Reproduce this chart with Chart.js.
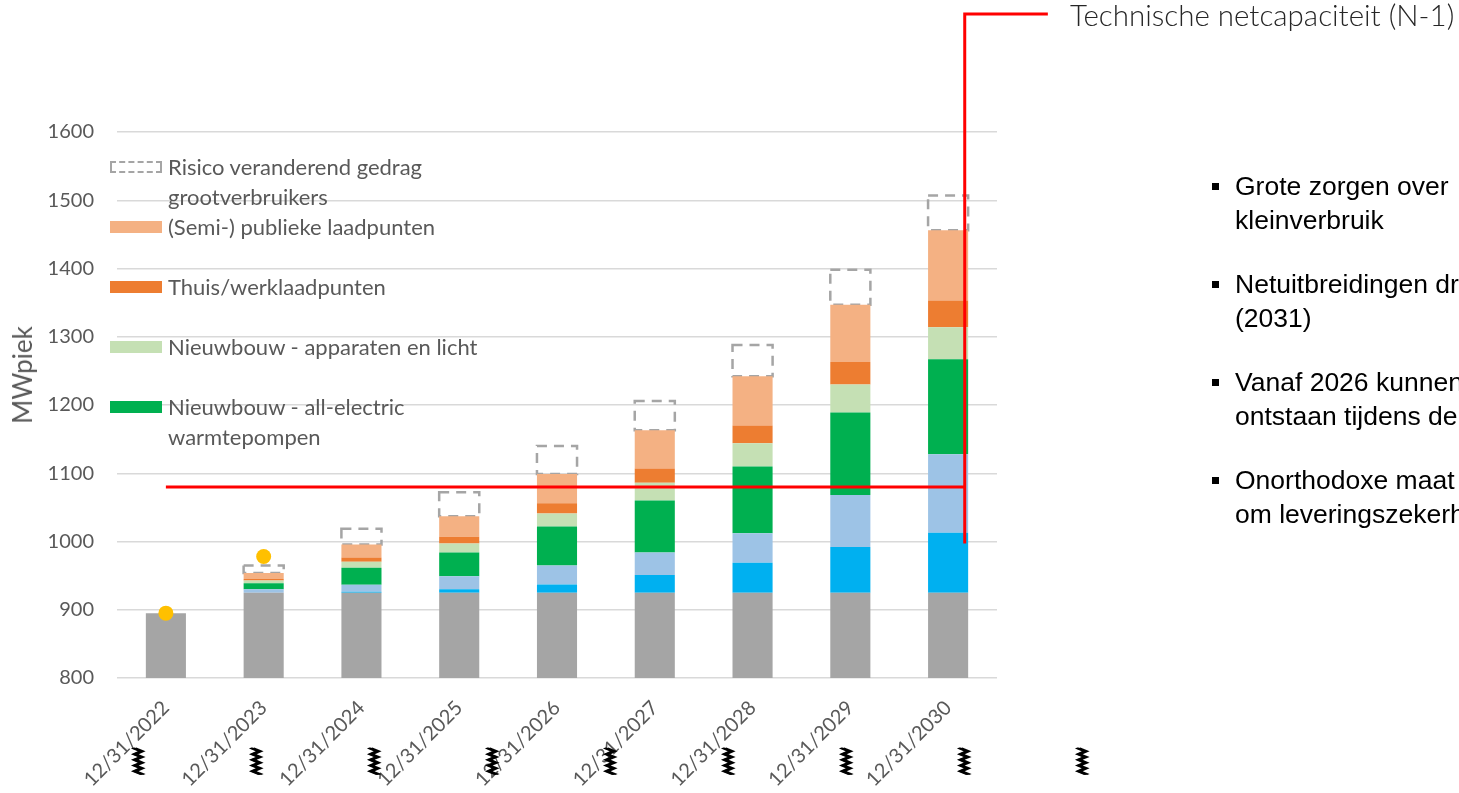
<!DOCTYPE html>
<html>
<head>
<meta charset="utf-8">
<script src="https://cdn.jsdelivr.net/npm/chart.js@4.4.1/dist/chart.umd.min.js"></script>
<style>
  html, body { margin: 0; padding: 0; background: #fff; overflow: hidden; }
  #wrap { position: relative; width: 1459px; height: 793px; overflow: hidden; }
  #mainChart { position: absolute; left: 0; top: 0; }
  #yTitle { position: absolute; left: 22px; top: 375px; transform: translate(-50%, -50%) rotate(-90deg);
    font: 26px Lato; color: #595959; white-space: nowrap; }
  #legend { position: absolute; left: 110px; top: 152px; font: 22px Lato; color: #595959; }
  #legend .item { display: flex; height: 60px; }
  #legend .box { width: 52px; height: 12px; margin: 9px 6px 0 0; flex: none; box-sizing: border-box; }
  #legend .label { line-height: 30px; white-space: pre; }
  #callout { position: absolute; left: 1070px; top: -3px; font: 300 29.5px Lato; color: #262626; white-space: nowrap; }
  #notes { position: absolute; left: 1212px; top: 170px; font: 26.5px "Liberation Sans", Arial, sans-serif; color: #000; }
  #notes .note { position: relative; padding-left: 23px; line-height: 33.5px; height: 67px; margin-bottom: 31px; white-space: nowrap; }
  #notes .note::before { content: ""; position: absolute; left: 0; top: 13px; width: 7px; height: 7px; background: #000; }
  #marks { position: absolute; left: 79px; top: 743px; display: flex; font: 35px "DejaVu Sans"; color: #000; }
  #marks span { width: 117.9px; text-align: center; }
  #marks span b { display: inline-block; transform: scaleX(2.4); font-weight: normal;
    text-shadow: 0.6px 0 0 #000, -0.6px 0 0 #000; }
</style>
</head>
<body>
<div id="wrap">
  <canvas id="mainChart" width="1459" height="793"></canvas>
  <div id="yTitle">MWpiek</div>
  <div id="legend"></div>
  <div id="callout">Technische netcapaciteit (N-1)</div>
  <div id="notes"></div>
  <div id="marks"></div>
</div>
<script>
// categories
var years = ['12/31/2022', '12/31/2023', '12/31/2024', '12/31/2025', '12/31/2026',
             '12/31/2027', '12/31/2028', '12/31/2029', '12/31/2030'];

// stacked segments, MWpiek (bottom to top)
var basis        = [895, 925, 925, 925, 925, 925, 925, 925, 925];
var segmentA     = [0, 0, 1.5, 5, 12, 26, 44, 67, 88];
var segmentB     = [0, 5, 10, 19, 28, 33, 43, 76, 115];
var allElectric  = [0, 9, 25, 35, 57, 76, 98, 121, 139];
var apparaten    = [0, 4, 9, 13, 19, 26, 34, 41, 47];
var thuisWerk    = [0, 2, 6, 10, 15, 21, 26, 33, 39];
var publiek      = [0, 9, 19, 30, 43, 56, 72, 84, 103];
var risico       = [0, 11, 23, 35, 41, 43, 46, 51, 51];

// measured peaks
var gemeten = [895, 978, null, null, null, null, null, null, null];

// technical capacity line (x in category units)
var netCapacity = 1080;
var capacityX = [0, 8.17];
var calloutX = [8.17, 8.17, 9.02];
var calloutY = [997, 1773, 1773];

var yTicks = { min: 800, max: 1600, step: 100 };

var notes = [
  'Grote zorgen over\nkleinverbruik',
  'Netuitbreidingen dr\n(2031)',
  'Vanaf 2026 kunnen\nontstaan tijdens de',
  'Onorthodoxe maat\nom leveringszekerh'
];
var markCount = 9;

var series = [
  { label: 'Basis', data: basis, color: '#A5A5A5', legend: false },
  { label: 'Segment A', data: segmentA, color: '#00B0F0', legend: false },
  { label: 'Segment B', data: segmentB, color: '#9DC3E6', legend: false },
  { label: 'Nieuwbouw - all-electric\nwarmtepompen', data: allElectric, color: '#00B050', legend: true },
  { label: 'Nieuwbouw - apparaten en licht', data: apparaten, color: '#C5E0B4', legend: true },
  { label: 'Thuis/werklaadpunten', data: thuisWerk, color: '#ED7D31', legend: true },
  { label: '(Semi-) publieke laadpunten', data: publiek, color: '#F4B183', legend: true },
  { label: 'Risico veranderend gedrag\ngrootverbruikers', data: risico, color: 'transparent', legend: true, dashed: true }
];

var datasets = series.map(function(s) {
  return {
    type: 'bar', label: s.label, data: s.data, stack: 'bars', grouped: false,
    backgroundColor: s.color, borderWidth: 0,
    barPercentage: 0.41, categoryPercentage: 1, dashed: !!s.dashed, order: 0
  };
});

datasets.push({
  type: 'line', label: 'Gemeten', data: gemeten, stack: 'dots',
  showLine: false, pointRadius: 7.5, pointHoverRadius: 7.5,
  pointBackgroundColor: '#FFC000', pointBorderWidth: 0, order: -2
});

var capPoints = capacityX.map(function(x) { return { x: x, y: netCapacity }; });
capPoints.push({ x: calloutX[0], y: null });
calloutX.forEach(function(x, i) { capPoints.push({ x: x, y: calloutY[i] }); });

datasets.push({
  type: 'line', label: 'Technische netcapaciteit (N-1)', data: capPoints, xAxisID: 'x2', stack: 'cap',
  borderColor: '#FF0000', borderWidth: 3, pointRadius: 0, spanGaps: false, clip: false,
  borderCapStyle: 'butt', borderJoinStyle: 'miter', order: -1
});

var dashedBoxes = {
  id: 'dashedBoxes',
  afterDatasetDraw: function(chart, args) {
    var ds = chart.data.datasets[args.index];
    if (!ds.dashed) return;
    var ctx = chart.ctx;
    ctx.save();
    ctx.setLineDash([10, 7]);
    ctx.lineWidth = 2.5;
    ctx.strokeStyle = '#A5A5A5';
    args.meta.data.forEach(function(bar) {
      var p = bar.getProps(['x', 'y', 'base', 'width'], true);
      if (Math.abs(p.base - p.y) < 1) return;
      ctx.strokeRect(p.x - p.width / 2, p.y, p.width, p.base - p.y);
    });
    ctx.restore();
  }
};

Chart.defaults.font.family = 'Lato';
Chart.defaults.color = '#595959';

var chart = new Chart(document.getElementById('mainChart').getContext('2d'), {
  type: 'bar',
  data: { labels: years, datasets: datasets },
  options: {
    responsive: false, animation: false,
    layout: { padding: { top: 132, right: 462, left: 0, bottom: 0 } },
    plugins: { legend: { display: false }, tooltip: { enabled: false } },
    scales: {
      x: {
        stacked: true, offset: true,
        grid: { display: false }, border: { display: false },
        ticks: { autoSkip: false, minRotation: 45, maxRotation: 45, padding: 10, font: { size: 20 }, color: '#595959' },
        afterFit: function(scale) { scale.height = 115; }
      },
      x2: { type: 'linear', display: false, offset: false, min: -0.5, max: 8.5 },
      y: {
        stacked: true, min: yTicks.min, max: yTicks.max,
        border: { display: false },
        grid: { color: '#D9D9D9', lineWidth: 1.5, drawTicks: false },
        ticks: {
          stepSize: yTicks.step, padding: 23, font: { size: 20 }, color: '#595959',
          callback: function(v) { return String(v); }
        },
        afterFit: function(scale) { scale.width = 117; }
      }
    }
  },
  plugins: [dashedBoxes]
});

// legend from the datasets, top of the stack first
var legendEl = document.getElementById('legend');
series.slice().reverse().forEach(function(s) {
  if (!s.legend) return;
  var item = document.createElement('div');
  item.className = 'item';
  var box = document.createElement('div');
  box.className = 'box';
  if (s.dashed) box.style.border = '2px dashed #A5A5A5';
  else box.style.background = s.color;
  var label = document.createElement('div');
  label.className = 'label';
  label.textContent = s.label;
  item.appendChild(box);
  item.appendChild(label);
  legendEl.appendChild(item);
});

var notesEl = document.getElementById('notes');
notes.forEach(function(n) {
  var d = document.createElement('div');
  d.className = 'note';
  d.innerHTML = n.split('\n').join('<br>');
  notesEl.appendChild(d);
});

var marksEl = document.getElementById('marks');
for (var i = 0; i < markCount; i++) {
  var m = document.createElement('span');
  var g = document.createElement('b');
  g.textContent = '\u299A';
  m.appendChild(g);
  marksEl.appendChild(m);
}
</script>
</body>
</html>
